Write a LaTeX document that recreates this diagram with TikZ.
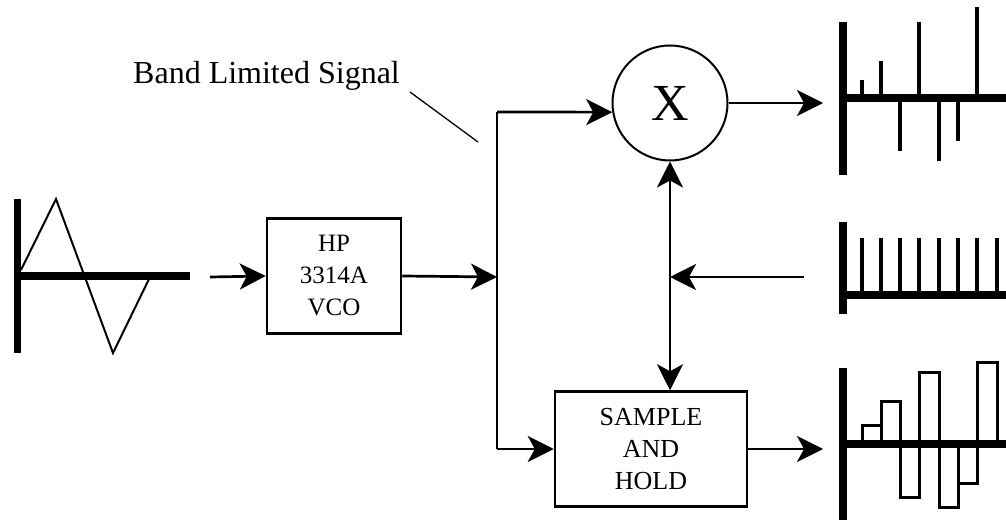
\documentclass[tikz,border=0pt]{standalone}
\usepackage{fontspec}
\setmainfont{Liberation Serif}
\usetikzlibrary{arrows.meta}
\tikzset{ blk/.style = { rectangle
                         , draw
                         , line width   = 2.5pt
                         , align        = center
                         , inner sep    = 0pt
                         },
          mulc/.style = { circle
                         , draw
                         , line width   = 2pt
                         , inner sep    = 0pt
                         , minimum size = 115pt
                         , font         = \fontsize{52}{52}\selectfont
                         },
          ar/.style = { line width = 2.7pt
                      , -{Stealth[length=26pt, width=26pt, inset=7pt]}
                      },
          bar/.style = { line width = 7.5pt },
          spk/.style = { line width = 4pt }
        }

\begin{document}
\begin{tikzpicture}[x=1pt, y=-1pt]
    \useasboundingbox (0,0) rectangle (1006,521);
    % input triangle wave
    \draw[bar] (17.5,199) -- (17.5,353);
    \draw[bar] (17.5,276) -- (190,276);
    \draw[line width=2pt] (21,270) -- (56,199) -- (113,353) -- (150,277);

    \node[blk, minimum width=134pt, minimum height=115pt,
          font=\fontsize{25}{32}\selectfont] (vco) at (334,276) {HP\\3314A\\VCO};
    \node[mulc] (mul) at (670,103) {X};
    \node[blk, minimum width=192pt, minimum height=115pt,
          font=\fontsize{26}{32}\selectfont] (sh) at (651,449) {SAMPLE\\AND\\HOLD};

    \node[anchor=base west, inner sep=0pt,
          font=\fontsize{32}{32}\selectfont] (lbl) at (133,84) {Band Limited Signal};
    \coordinate (lead) at (478,142);
    \draw[line width=1.3pt] (410,92) -- (lead);

    \coordinate (in)   at (210,277);
    \coordinate (jmid) at (497,277);
    \coordinate (jtop) at (497,112);
    \coordinate (jbot) at (497,449);
    \coordinate (clk)  at (804,277);
    \coordinate (o1)   at (823,103);
    \coordinate (o3)   at (823,449);

    \draw[ar] (in) -- (vco.west);
    \draw[ar] (vco.east) -- (jmid);
    \draw[line width=2.7pt] (jtop) -- (jbot);
    \draw[ar] (jtop) -- (mul.189);
    \draw[ar] (jbot) -- (sh.west);
    \draw[ar] (mul.east) -- (o1);
    \draw[ar] (sh.east) -- (o3);
    \draw[ar, {Stealth[length=26pt, width=26pt, inset=7pt]}-{Stealth[length=26pt, width=26pt, inset=7pt]}]
        (mul.south) -- (mul.south |- sh.north);
    \draw[ar] (clk) -- (clk -| mul.south);

    % product
    \draw[bar] (843,22) -- (843,175);
    \draw[bar] (843,98) -- (1006,98);
    \foreach \x/\y in {862/80, 881/61, 900/151, 919/22, 939/161, 958/141, 977/7}
        \draw[spk] (\x,98) -- (\x,\y);

    % sampling pulses
    \draw[bar] (843,222) -- (843,314);
    \draw[bar] (843,295) -- (1006,295);
    \foreach \x in {862, 881, 900, 919, 939, 958, 977, 997}
        \draw[spk] (\x,295) -- (\x,238);

    % held samples
    \draw[bar] (843,368) -- (843,520);
    \draw[bar] (843,444) -- (1006,444);
    \foreach \a/\b/\y in {862/881/425, 881/900/401, 900/919/497, 919/939/372,
                          939/958/507, 958/977/483, 977/997/362}
        \draw[line width=3pt] (\a,444) rectangle (\b,\y);
\end{tikzpicture}
\end{document}
